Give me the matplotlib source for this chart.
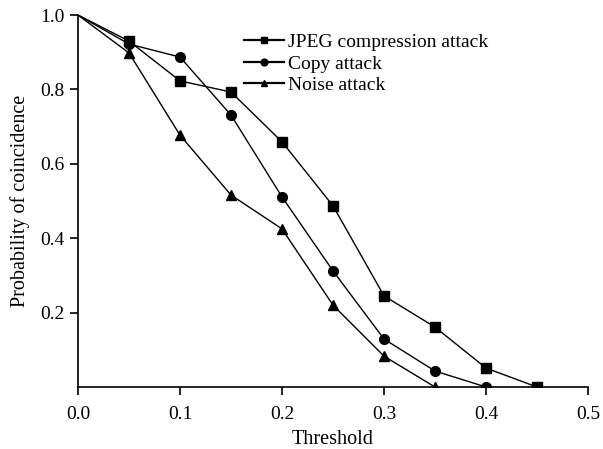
import numpy as np
import matplotlib.pyplot as plt

plt.rcParams['font.family'] = ['Liberation Serif', 'DejaVu Serif']

threshold = [0.0, 0.05, 0.1, 0.15, 0.2, 0.25, 0.3, 0.35, 0.4, 0.45]
jpeg = [1.0, 0.930, 0.823, 0.793, 0.659, 0.487, 0.245, 0.161, 0.051, 0.0]
copy = [1.0, 0.922, 0.887, 0.731, 0.511, 0.312, 0.129, 0.043, 0.0]
noise = [1.0, 0.898, 0.677, 0.516, 0.425, 0.220, 0.083, 0.0]

fig = plt.figure(figsize=(6.03, 4.49), dpi=100)
ax = fig.add_axes([0.1294, 0.138, 0.8458, 0.8285])

# first point (0, 1.0) has no marker in the original
ax.plot(threshold[:len(jpeg)], jpeg, color='k', linewidth=1, marker='s', markersize=7,
        markevery=list(range(1, len(jpeg))), label='JPEG compression attack')
ax.plot(threshold[:len(copy)], copy, color='k', linewidth=1, marker='o', markersize=7,
        markevery=list(range(1, len(copy))), label='Copy attack')
ax.plot(threshold[:len(noise)], noise, color='k', linewidth=1, marker='^', markersize=7,
        markevery=list(range(1, len(noise))), label='Noise attack')

ax.set_xlim(0, 0.5)
ax.set_ylim(0, 1.0)
ax.set_xticks([0.0, 0.1, 0.2, 0.3, 0.4, 0.5])
ax.set_yticks([0.2, 0.4, 0.6, 0.8, 1.0])
ax.set_yticklabels(['0.2', '0.4', '0.6', '0.8', '1.0'])
ax.spines['top'].set_visible(False)
ax.spines['right'].set_visible(False)
ax.spines['left'].set_linewidth(1.2)
ax.spines['bottom'].set_linewidth(1.2)
ax.tick_params(labelsize=14, length=6, width=1.2)
ax.tick_params(axis='x', pad=8)
ax.set_xlabel('Threshold', fontsize=14.5, labelpad=5)
ax.set_ylabel('Probability of coincidence', fontsize=14.5, labelpad=7.5)

leg = ax.legend(loc='upper left', bbox_to_anchor=(0.294, 0.992), frameon=False, fontsize=14,
                handlelength=2.1, handletextpad=0.2, labelspacing=0.2, borderpad=0.3,
                markerscale=0.7)
for line in leg.get_lines():
    line.set_linewidth(1.6)

fig.savefig('out.png', dpi=100)
